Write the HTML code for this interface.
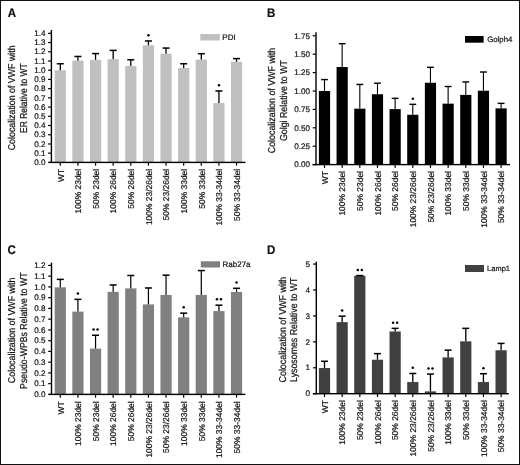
<!DOCTYPE html>
<html><head><meta charset="utf-8"><style>
html,body{margin:0;padding:0;background:#fff;}
svg{display:block;will-change:transform;}
text{font-family:"Liberation Sans", sans-serif;fill:#111;stroke:#111;stroke-width:0.2px;text-rendering:geometricPrecision;}
</style></head><body>
<svg width="520" height="465" viewBox="0 0 520 465">
<rect x="0" y="0" width="520" height="465" fill="#fff"/>
<rect x="0.5" y="0.5" width="519" height="464" fill="none" stroke="#111" stroke-width="1"/>
<text transform="translate(7.8,16.6) scale(0.93,1)" font-size="12.4" font-weight="bold">A</text>
<rect x="54.7" y="70.2" width="11.2" height="92.2" fill="#c0c0c0"/>
<rect x="59.65" y="63.75" width="1.3" height="6.45" fill="#000"/>
<rect x="56.8" y="63" width="7" height="1.5" fill="#000"/>
<rect x="59.7" y="162.4" width="1.2" height="3.3" fill="#000"/>
<text transform="translate(63.5,168.8) rotate(-90) scale(1,1.0)" text-anchor="end" font-size="8.45">WT</text>
<rect x="72.33" y="60.61" width="11.2" height="101.79" fill="#c0c0c0"/>
<rect x="77.27" y="56.46" width="1.3" height="4.15" fill="#000"/>
<rect x="74.42" y="55.71" width="7" height="1.5" fill="#000"/>
<rect x="77.33" y="162.4" width="1.2" height="3.3" fill="#000"/>
<text transform="translate(81.12,168.8) rotate(-90) scale(1,1.0)" text-anchor="end" font-size="8.45">100% 23del</text>
<rect x="89.95" y="59.78" width="11.2" height="102.62" fill="#c0c0c0"/>
<rect x="94.9" y="53.6" width="1.3" height="6.18" fill="#000"/>
<rect x="92.05" y="52.85" width="7" height="1.5" fill="#000"/>
<rect x="94.95" y="162.4" width="1.2" height="3.3" fill="#000"/>
<text transform="translate(98.75,168.8) rotate(-90) scale(1,1.0)" text-anchor="end" font-size="8.45">50% 23del</text>
<rect x="107.58" y="59.14" width="11.2" height="103.26" fill="#c0c0c0"/>
<rect x="112.52" y="50.38" width="1.3" height="8.76" fill="#000"/>
<rect x="109.67" y="49.63" width="7" height="1.5" fill="#000"/>
<rect x="112.58" y="162.4" width="1.2" height="3.3" fill="#000"/>
<text transform="translate(116.38,168.8) rotate(-90) scale(1,1.0)" text-anchor="end" font-size="8.45">100% 26del</text>
<rect x="125.2" y="65.96" width="11.2" height="96.44" fill="#c0c0c0"/>
<rect x="130.15" y="59.78" width="1.3" height="6.18" fill="#000"/>
<rect x="127.3" y="59.03" width="7" height="1.5" fill="#000"/>
<rect x="130.2" y="162.4" width="1.2" height="3.3" fill="#000"/>
<text transform="translate(134,168.8) rotate(-90) scale(1,1.0)" text-anchor="end" font-size="8.45">50% 26del</text>
<rect x="142.83" y="45.31" width="11.2" height="117.09" fill="#c0c0c0"/>
<rect x="147.78" y="40.97" width="1.3" height="4.33" fill="#000"/>
<rect x="144.93" y="40.22" width="7" height="1.5" fill="#000"/>
<circle cx="148.43" cy="35.37" r="1.25" fill="#000"/>
<rect x="147.83" y="162.4" width="1.2" height="3.3" fill="#000"/>
<text transform="translate(151.62,168.8) rotate(-90) scale(1,1.0)" text-anchor="end" font-size="8.45">100% 23/26del</text>
<rect x="160.45" y="53.7" width="11.2" height="108.7" fill="#c0c0c0"/>
<rect x="165.4" y="48.07" width="1.3" height="5.62" fill="#000"/>
<rect x="162.55" y="47.32" width="7" height="1.5" fill="#000"/>
<rect x="165.45" y="162.4" width="1.2" height="3.3" fill="#000"/>
<text transform="translate(169.25,168.8) rotate(-90) scale(1,1.0)" text-anchor="end" font-size="8.45">50% 23/26del</text>
<rect x="178.08" y="67.99" width="11.2" height="94.41" fill="#c0c0c0"/>
<rect x="183.03" y="63.75" width="1.3" height="4.24" fill="#000"/>
<rect x="180.18" y="63" width="7" height="1.5" fill="#000"/>
<rect x="183.08" y="162.4" width="1.2" height="3.3" fill="#000"/>
<text transform="translate(186.88,168.8) rotate(-90) scale(1,1.0)" text-anchor="end" font-size="8.45">100% 33del</text>
<rect x="195.7" y="59.6" width="11.2" height="102.8" fill="#c0c0c0"/>
<rect x="200.65" y="53.7" width="1.3" height="5.9" fill="#000"/>
<rect x="197.8" y="52.95" width="7" height="1.5" fill="#000"/>
<rect x="200.7" y="162.4" width="1.2" height="3.3" fill="#000"/>
<text transform="translate(204.5,168.8) rotate(-90) scale(1,1.0)" text-anchor="end" font-size="8.45">50% 33del</text>
<rect x="213.33" y="103.12" width="11.2" height="59.28" fill="#c0c0c0"/>
<rect x="218.28" y="90.95" width="1.3" height="12.17" fill="#000"/>
<rect x="215.43" y="90.2" width="7" height="1.5" fill="#000"/>
<circle cx="218.93" cy="85.35" r="1.25" fill="#000"/>
<rect x="218.33" y="162.4" width="1.2" height="3.3" fill="#000"/>
<text transform="translate(222.12,168.8) rotate(-90) scale(1,1.0)" text-anchor="end" font-size="8.45">100% 33-34del</text>
<rect x="230.95" y="61.72" width="11.2" height="100.68" fill="#c0c0c0"/>
<rect x="235.9" y="58.58" width="1.3" height="3.13" fill="#000"/>
<rect x="233.05" y="57.83" width="7" height="1.5" fill="#000"/>
<rect x="235.95" y="162.4" width="1.2" height="3.3" fill="#000"/>
<text transform="translate(239.75,168.8) rotate(-90) scale(1,1.0)" text-anchor="end" font-size="8.45">50% 33-34del</text>
<rect x="50.7" y="30" width="1.4" height="133.1" fill="#000"/>
<rect x="49" y="161.7" width="196.5" height="1.4" fill="#000"/>
<rect x="48.1" y="161.8" width="3" height="1.2" fill="#000"/>
<text x="45.4" y="165.1" text-anchor="end" font-size="8.1">0.0</text>
<rect x="48.1" y="152.58" width="3" height="1.2" fill="#000"/>
<text x="45.4" y="155.88" text-anchor="end" font-size="8.1">0.1</text>
<rect x="48.1" y="143.36" width="3" height="1.2" fill="#000"/>
<text x="45.4" y="146.66" text-anchor="end" font-size="8.1">0.2</text>
<rect x="48.1" y="134.14" width="3" height="1.2" fill="#000"/>
<text x="45.4" y="137.44" text-anchor="end" font-size="8.1">0.3</text>
<rect x="48.1" y="124.92" width="3" height="1.2" fill="#000"/>
<text x="45.4" y="128.22" text-anchor="end" font-size="8.1">0.4</text>
<rect x="48.1" y="115.7" width="3" height="1.2" fill="#000"/>
<text x="45.4" y="119" text-anchor="end" font-size="8.1">0.5</text>
<rect x="48.1" y="106.48" width="3" height="1.2" fill="#000"/>
<text x="45.4" y="109.78" text-anchor="end" font-size="8.1">0.6</text>
<rect x="48.1" y="97.26" width="3" height="1.2" fill="#000"/>
<text x="45.4" y="100.56" text-anchor="end" font-size="8.1">0.7</text>
<rect x="48.1" y="88.04" width="3" height="1.2" fill="#000"/>
<text x="45.4" y="91.34" text-anchor="end" font-size="8.1">0.8</text>
<rect x="48.1" y="78.82" width="3" height="1.2" fill="#000"/>
<text x="45.4" y="82.12" text-anchor="end" font-size="8.1">0.9</text>
<rect x="48.1" y="69.6" width="3" height="1.2" fill="#000"/>
<text x="45.4" y="72.9" text-anchor="end" font-size="8.1">1.0</text>
<rect x="48.1" y="60.38" width="3" height="1.2" fill="#000"/>
<text x="45.4" y="63.68" text-anchor="end" font-size="8.1">1.1</text>
<rect x="48.1" y="51.16" width="3" height="1.2" fill="#000"/>
<text x="45.4" y="54.46" text-anchor="end" font-size="8.1">1.2</text>
<rect x="48.1" y="41.94" width="3" height="1.2" fill="#000"/>
<text x="45.4" y="45.24" text-anchor="end" font-size="8.1">1.3</text>
<rect x="48.1" y="32.72" width="3" height="1.2" fill="#000"/>
<text x="45.4" y="36.02" text-anchor="end" font-size="8.1">1.4</text>
<rect x="200.3" y="34" width="19.5" height="6.5" fill="#c0c0c0"/>
<text x="222.3" y="39.9" font-size="8.0">PDI</text>
<text transform="translate(15.1,97.85) rotate(-90) scale(1,1.12)" text-anchor="middle" font-size="8.9" textLength="104.8" lengthAdjust="spacingAndGlyphs">Colocalization of VWF with</text>
<text transform="translate(27.1,98.15) rotate(-90) scale(1,1.12)" text-anchor="middle" font-size="8.9" textLength="69.5" lengthAdjust="spacingAndGlyphs">ER Relative to WT</text>
<text transform="translate(267,16.6) scale(0.93,1)" font-size="12.4" font-weight="bold">B</text>
<rect x="318.9" y="91" width="11.2" height="73.6" fill="#000000"/>
<rect x="323.95" y="79.59" width="1.1" height="11.41" fill="#000"/>
<rect x="321.1" y="78.89" width="6.8" height="1.4" fill="#000"/>
<rect x="323.9" y="164.6" width="1.2" height="3.3" fill="#000"/>
<text transform="translate(327.7,171) rotate(-90) scale(1,1.0)" text-anchor="end" font-size="8.45">WT</text>
<rect x="336.56" y="67.01" width="11.2" height="97.59" fill="#000000"/>
<rect x="341.61" y="43.68" width="1.1" height="23.33" fill="#000"/>
<rect x="338.76" y="42.98" width="6.8" height="1.4" fill="#000"/>
<rect x="341.56" y="164.6" width="1.2" height="3.3" fill="#000"/>
<text transform="translate(345.36,171) rotate(-90) scale(1,1.0)" text-anchor="end" font-size="8.45">100% 23del</text>
<rect x="354.22" y="108.66" width="11.2" height="55.94" fill="#000000"/>
<rect x="359.27" y="84.45" width="1.1" height="24.21" fill="#000"/>
<rect x="356.42" y="83.75" width="6.8" height="1.4" fill="#000"/>
<rect x="359.22" y="164.6" width="1.2" height="3.3" fill="#000"/>
<text transform="translate(363.02,171) rotate(-90) scale(1,1.0)" text-anchor="end" font-size="8.45">50% 23del</text>
<rect x="371.88" y="94.24" width="11.2" height="70.36" fill="#000000"/>
<rect x="376.93" y="83.2" width="1.1" height="11.04" fill="#000"/>
<rect x="374.08" y="82.5" width="6.8" height="1.4" fill="#000"/>
<rect x="376.88" y="164.6" width="1.2" height="3.3" fill="#000"/>
<text transform="translate(380.68,171) rotate(-90) scale(1,1.0)" text-anchor="end" font-size="8.45">100% 26del</text>
<rect x="389.54" y="109.11" width="11.2" height="55.49" fill="#000000"/>
<rect x="394.59" y="98.36" width="1.1" height="10.75" fill="#000"/>
<rect x="391.74" y="97.66" width="6.8" height="1.4" fill="#000"/>
<rect x="394.54" y="164.6" width="1.2" height="3.3" fill="#000"/>
<text transform="translate(398.34,171) rotate(-90) scale(1,1.0)" text-anchor="end" font-size="8.45">50% 26del</text>
<rect x="407.2" y="114.77" width="11.2" height="49.83" fill="#000000"/>
<rect x="412.25" y="104.32" width="1.1" height="10.45" fill="#000"/>
<rect x="409.4" y="103.62" width="6.8" height="1.4" fill="#000"/>
<circle cx="412.8" cy="98.72" r="1.25" fill="#000"/>
<rect x="412.2" y="164.6" width="1.2" height="3.3" fill="#000"/>
<text transform="translate(416,171) rotate(-90) scale(1,1.0)" text-anchor="end" font-size="8.45">100% 23/26del</text>
<rect x="424.86" y="82.76" width="11.2" height="81.84" fill="#000000"/>
<rect x="429.91" y="67.3" width="1.1" height="15.46" fill="#000"/>
<rect x="427.06" y="66.6" width="6.8" height="1.4" fill="#000"/>
<rect x="429.86" y="164.6" width="1.2" height="3.3" fill="#000"/>
<text transform="translate(433.66,171) rotate(-90) scale(1,1.0)" text-anchor="end" font-size="8.45">50% 23/26del</text>
<rect x="442.52" y="103.66" width="11.2" height="60.94" fill="#000000"/>
<rect x="447.57" y="86.51" width="1.1" height="17.15" fill="#000"/>
<rect x="444.72" y="85.81" width="6.8" height="1.4" fill="#000"/>
<rect x="447.52" y="164.6" width="1.2" height="3.3" fill="#000"/>
<text transform="translate(451.32,171) rotate(-90) scale(1,1.0)" text-anchor="end" font-size="8.45">100% 33del</text>
<rect x="460.18" y="94.9" width="11.2" height="69.7" fill="#000000"/>
<rect x="465.23" y="81.95" width="1.1" height="12.95" fill="#000"/>
<rect x="462.38" y="81.25" width="6.8" height="1.4" fill="#000"/>
<rect x="465.18" y="164.6" width="1.2" height="3.3" fill="#000"/>
<text transform="translate(468.98,171) rotate(-90) scale(1,1.0)" text-anchor="end" font-size="8.45">50% 33del</text>
<rect x="477.84" y="90.71" width="11.2" height="73.89" fill="#000000"/>
<rect x="482.89" y="72.01" width="1.1" height="18.69" fill="#000"/>
<rect x="480.04" y="71.31" width="6.8" height="1.4" fill="#000"/>
<rect x="482.84" y="164.6" width="1.2" height="3.3" fill="#000"/>
<text transform="translate(486.64,171) rotate(-90) scale(1,1.0)" text-anchor="end" font-size="8.45">100% 33-34del</text>
<rect x="495.5" y="108.37" width="11.2" height="56.23" fill="#000000"/>
<rect x="500.55" y="103.36" width="1.1" height="5" fill="#000"/>
<rect x="497.7" y="102.66" width="6.8" height="1.4" fill="#000"/>
<rect x="500.5" y="164.6" width="1.2" height="3.3" fill="#000"/>
<text transform="translate(504.3,171) rotate(-90) scale(1,1.0)" text-anchor="end" font-size="8.45">50% 33-34del</text>
<rect x="315.3" y="32.3" width="1.4" height="133" fill="#000"/>
<rect x="312.6" y="163.9" width="197.4" height="1.4" fill="#000"/>
<rect x="312.7" y="164" width="3" height="1.2" fill="#000"/>
<text x="309.9" y="167.3" text-anchor="end" font-size="8.1">0.00</text>
<rect x="312.7" y="145.6" width="3" height="1.2" fill="#000"/>
<text x="309.9" y="148.9" text-anchor="end" font-size="8.1">0.25</text>
<rect x="312.7" y="127.2" width="3" height="1.2" fill="#000"/>
<text x="309.9" y="130.5" text-anchor="end" font-size="8.1">0.50</text>
<rect x="312.7" y="108.8" width="3" height="1.2" fill="#000"/>
<text x="309.9" y="112.1" text-anchor="end" font-size="8.1">0.75</text>
<rect x="312.7" y="90.4" width="3" height="1.2" fill="#000"/>
<text x="309.9" y="93.7" text-anchor="end" font-size="8.1">1.00</text>
<rect x="312.7" y="72" width="3" height="1.2" fill="#000"/>
<text x="309.9" y="75.3" text-anchor="end" font-size="8.1">1.25</text>
<rect x="312.7" y="53.6" width="3" height="1.2" fill="#000"/>
<text x="309.9" y="56.9" text-anchor="end" font-size="8.1">1.50</text>
<rect x="312.7" y="35.2" width="3" height="1.2" fill="#000"/>
<text x="309.9" y="38.5" text-anchor="end" font-size="8.1">1.75</text>
<rect x="465" y="36" width="18.6" height="6.7" fill="#000000"/>
<text x="487.2" y="41.9" font-size="7.8">Golph4</text>
<text transform="translate(274.9,100.5) rotate(-90) scale(1,1.12)" text-anchor="middle" font-size="8.9" textLength="105.5" lengthAdjust="spacingAndGlyphs">Colocalization of VWF with</text>
<text transform="translate(286.8,100.6) rotate(-90) scale(1,1.12)" text-anchor="middle" font-size="8.9" textLength="81" lengthAdjust="spacingAndGlyphs">Golgi Relative to WT</text>
<text transform="translate(7.6,254.3) scale(0.93,1)" font-size="12.4" font-weight="bold">C</text>
<rect x="54.7" y="287.33" width="11.2" height="107.07" fill="#808080"/>
<rect x="59.7" y="279.38" width="1.2" height="7.95" fill="#000"/>
<rect x="56.8" y="278.62" width="7" height="1.5" fill="#000"/>
<rect x="59.7" y="394.4" width="1.2" height="3.3" fill="#000"/>
<text transform="translate(63.5,401.3) rotate(-90) scale(1,1.0)" text-anchor="end" font-size="8.45">WT</text>
<rect x="72.33" y="311.62" width="11.2" height="82.77" fill="#808080"/>
<rect x="77.33" y="299.37" width="1.2" height="12.25" fill="#000"/>
<rect x="74.42" y="298.62" width="7" height="1.5" fill="#000"/>
<circle cx="77.92" cy="293.47" r="1.25" fill="#000"/>
<rect x="77.33" y="394.4" width="1.2" height="3.3" fill="#000"/>
<text transform="translate(81.12,401.3) rotate(-90) scale(1,1.0)" text-anchor="end" font-size="8.45">100% 23del</text>
<rect x="89.95" y="348.6" width="11.2" height="45.8" fill="#808080"/>
<rect x="94.95" y="335.27" width="1.2" height="13.33" fill="#000"/>
<rect x="92.05" y="334.52" width="7" height="1.5" fill="#000"/>
<circle cx="93.55" cy="329.38" r="1.25" fill="#000"/>
<circle cx="97.55" cy="329.38" r="1.25" fill="#000"/>
<rect x="94.95" y="394.4" width="1.2" height="3.3" fill="#000"/>
<text transform="translate(98.75,401.3) rotate(-90) scale(1,1.0)" text-anchor="end" font-size="8.45">50% 23del</text>
<rect x="107.58" y="291.84" width="11.2" height="102.56" fill="#808080"/>
<rect x="112.58" y="284.96" width="1.2" height="6.88" fill="#000"/>
<rect x="109.67" y="284.21" width="7" height="1.5" fill="#000"/>
<rect x="112.58" y="394.4" width="1.2" height="3.3" fill="#000"/>
<text transform="translate(116.38,401.3) rotate(-90) scale(1,1.0)" text-anchor="end" font-size="8.45">100% 26del</text>
<rect x="125.2" y="288.4" width="11.2" height="106" fill="#808080"/>
<rect x="130.2" y="275.5" width="1.2" height="12.9" fill="#000"/>
<rect x="127.3" y="274.75" width="7" height="1.5" fill="#000"/>
<rect x="130.2" y="394.4" width="1.2" height="3.3" fill="#000"/>
<text transform="translate(134,401.3) rotate(-90) scale(1,1.0)" text-anchor="end" font-size="8.45">50% 26del</text>
<rect x="142.83" y="304.42" width="11.2" height="89.98" fill="#808080"/>
<rect x="147.83" y="287.97" width="1.2" height="16.45" fill="#000"/>
<rect x="144.93" y="287.22" width="7" height="1.5" fill="#000"/>
<rect x="147.83" y="394.4" width="1.2" height="3.3" fill="#000"/>
<text transform="translate(151.62,401.3) rotate(-90) scale(1,1.0)" text-anchor="end" font-size="8.45">100% 23/26del</text>
<rect x="160.45" y="294.96" width="11.2" height="99.44" fill="#808080"/>
<rect x="165.45" y="275.18" width="1.2" height="19.78" fill="#000"/>
<rect x="162.55" y="274.43" width="7" height="1.5" fill="#000"/>
<rect x="165.45" y="394.4" width="1.2" height="3.3" fill="#000"/>
<text transform="translate(169.25,401.3) rotate(-90) scale(1,1.0)" text-anchor="end" font-size="8.45">50% 23/26del</text>
<rect x="178.08" y="317.32" width="11.2" height="77.08" fill="#808080"/>
<rect x="183.08" y="313.13" width="1.2" height="4.19" fill="#000"/>
<rect x="180.18" y="312.38" width="7" height="1.5" fill="#000"/>
<circle cx="183.68" cy="307.23" r="1.25" fill="#000"/>
<rect x="183.08" y="394.4" width="1.2" height="3.3" fill="#000"/>
<text transform="translate(186.88,401.3) rotate(-90) scale(1,1.0)" text-anchor="end" font-size="8.45">100% 33del</text>
<rect x="195.7" y="294.96" width="11.2" height="99.44" fill="#808080"/>
<rect x="200.7" y="270.56" width="1.2" height="24.4" fill="#000"/>
<rect x="197.8" y="269.81" width="7" height="1.5" fill="#000"/>
<rect x="200.7" y="394.4" width="1.2" height="3.3" fill="#000"/>
<text transform="translate(204.5,401.3) rotate(-90) scale(1,1.0)" text-anchor="end" font-size="8.45">50% 33del</text>
<rect x="213.33" y="311.09" width="11.2" height="83.31" fill="#808080"/>
<rect x="218.33" y="305.17" width="1.2" height="5.91" fill="#000"/>
<rect x="215.43" y="304.42" width="7" height="1.5" fill="#000"/>
<circle cx="216.93" cy="299.27" r="1.25" fill="#000"/>
<circle cx="220.93" cy="299.27" r="1.25" fill="#000"/>
<rect x="218.33" y="394.4" width="1.2" height="3.3" fill="#000"/>
<text transform="translate(222.12,401.3) rotate(-90) scale(1,1.0)" text-anchor="end" font-size="8.45">100% 33-34del</text>
<rect x="230.95" y="291.95" width="11.2" height="102.45" fill="#808080"/>
<rect x="235.95" y="288.3" width="1.2" height="3.65" fill="#000"/>
<rect x="233.05" y="287.55" width="7" height="1.5" fill="#000"/>
<circle cx="236.55" cy="282.4" r="1.25" fill="#000"/>
<rect x="235.95" y="394.4" width="1.2" height="3.3" fill="#000"/>
<text transform="translate(239.75,401.3) rotate(-90) scale(1,1.0)" text-anchor="end" font-size="8.45">50% 33-34del</text>
<rect x="50.8" y="262.6" width="1.4" height="132.5" fill="#000"/>
<rect x="48.9" y="393.7" width="196.5" height="1.4" fill="#000"/>
<rect x="48.2" y="393.8" width="3" height="1.2" fill="#000"/>
<text x="45.4" y="397.1" text-anchor="end" font-size="8.1">0.0</text>
<rect x="48.2" y="383.05" width="3" height="1.2" fill="#000"/>
<text x="45.4" y="386.35" text-anchor="end" font-size="8.1">0.1</text>
<rect x="48.2" y="372.3" width="3" height="1.2" fill="#000"/>
<text x="45.4" y="375.6" text-anchor="end" font-size="8.1">0.2</text>
<rect x="48.2" y="361.55" width="3" height="1.2" fill="#000"/>
<text x="45.4" y="364.85" text-anchor="end" font-size="8.1">0.3</text>
<rect x="48.2" y="350.8" width="3" height="1.2" fill="#000"/>
<text x="45.4" y="354.1" text-anchor="end" font-size="8.1">0.4</text>
<rect x="48.2" y="340.05" width="3" height="1.2" fill="#000"/>
<text x="45.4" y="343.35" text-anchor="end" font-size="8.1">0.5</text>
<rect x="48.2" y="329.3" width="3" height="1.2" fill="#000"/>
<text x="45.4" y="332.6" text-anchor="end" font-size="8.1">0.6</text>
<rect x="48.2" y="318.55" width="3" height="1.2" fill="#000"/>
<text x="45.4" y="321.85" text-anchor="end" font-size="8.1">0.7</text>
<rect x="48.2" y="307.8" width="3" height="1.2" fill="#000"/>
<text x="45.4" y="311.1" text-anchor="end" font-size="8.1">0.8</text>
<rect x="48.2" y="297.05" width="3" height="1.2" fill="#000"/>
<text x="45.4" y="300.35" text-anchor="end" font-size="8.1">0.9</text>
<rect x="48.2" y="286.3" width="3" height="1.2" fill="#000"/>
<text x="45.4" y="289.6" text-anchor="end" font-size="8.1">1.0</text>
<rect x="48.2" y="275.55" width="3" height="1.2" fill="#000"/>
<text x="45.4" y="278.85" text-anchor="end" font-size="8.1">1.1</text>
<rect x="48.2" y="264.8" width="3" height="1.2" fill="#000"/>
<text x="45.4" y="268.1" text-anchor="end" font-size="8.1">1.2</text>
<rect x="200.8" y="261.3" width="19.2" height="6.2" fill="#808080"/>
<text x="222.5" y="267.4" font-size="8.0">Rab27a</text>
<text transform="translate(15.4,330.4) rotate(-90) scale(1,1.12)" text-anchor="middle" font-size="8.9" textLength="105.5" lengthAdjust="spacingAndGlyphs">Colocalization of VWF with</text>
<text transform="translate(27,330.65) rotate(-90) scale(1,1.12)" text-anchor="middle" font-size="8.9" textLength="116.5" lengthAdjust="spacingAndGlyphs">Pseudo-WPBs Relative to WT</text>
<text transform="translate(267,254.4) scale(0.93,1)" font-size="12.4" font-weight="bold">D</text>
<rect x="318.9" y="368.03" width="11.2" height="25.67" fill="#404040"/>
<rect x="323.85" y="361.29" width="1.3" height="6.74" fill="#000"/>
<rect x="321" y="360.54" width="7" height="1.5" fill="#000"/>
<rect x="323.9" y="393.7" width="1.2" height="3.3" fill="#000"/>
<text transform="translate(327.7,400.2) rotate(-90) scale(1,1.0)" text-anchor="end" font-size="8.45">WT</text>
<rect x="336.56" y="322.13" width="11.2" height="71.57" fill="#404040"/>
<rect x="341.51" y="316.17" width="1.3" height="5.96" fill="#000"/>
<rect x="338.66" y="315.42" width="7" height="1.5" fill="#000"/>
<circle cx="342.16" cy="310.57" r="1.25" fill="#000"/>
<rect x="341.56" y="393.7" width="1.2" height="3.3" fill="#000"/>
<text transform="translate(345.36,400.2) rotate(-90) scale(1,1.0)" text-anchor="end" font-size="8.45">100% 23del</text>
<rect x="354.22" y="275.8" width="11.2" height="117.9" fill="#404040"/>
<rect x="359.17" y="275.56" width="1.3" height="0.23" fill="#000"/>
<rect x="356.32" y="274.81" width="7" height="1.5" fill="#000"/>
<circle cx="357.82" cy="269.96" r="1.25" fill="#000"/>
<circle cx="361.82" cy="269.96" r="1.25" fill="#000"/>
<rect x="359.22" y="393.7" width="1.2" height="3.3" fill="#000"/>
<text transform="translate(363.02,400.2) rotate(-90) scale(1,1.0)" text-anchor="end" font-size="8.45">50% 23del</text>
<rect x="371.88" y="359.73" width="11.2" height="33.97" fill="#404040"/>
<rect x="376.83" y="353.64" width="1.3" height="6.09" fill="#000"/>
<rect x="373.98" y="352.89" width="7" height="1.5" fill="#000"/>
<rect x="376.88" y="393.7" width="1.2" height="3.3" fill="#000"/>
<text transform="translate(380.68,400.2) rotate(-90) scale(1,1.0)" text-anchor="end" font-size="8.45">100% 26del</text>
<rect x="389.54" y="331.47" width="11.2" height="62.23" fill="#404040"/>
<rect x="394.49" y="328.36" width="1.3" height="3.11" fill="#000"/>
<rect x="391.64" y="327.61" width="7" height="1.5" fill="#000"/>
<circle cx="393.14" cy="322.76" r="1.25" fill="#000"/>
<circle cx="397.14" cy="322.76" r="1.25" fill="#000"/>
<rect x="394.54" y="393.7" width="1.2" height="3.3" fill="#000"/>
<text transform="translate(398.34,400.2) rotate(-90) scale(1,1.0)" text-anchor="end" font-size="8.45">50% 26del</text>
<rect x="407.2" y="382.03" width="11.2" height="11.67" fill="#404040"/>
<rect x="412.15" y="373.47" width="1.3" height="8.56" fill="#000"/>
<rect x="409.3" y="372.72" width="7" height="1.5" fill="#000"/>
<circle cx="412.8" cy="367.87" r="1.25" fill="#000"/>
<rect x="412.2" y="393.7" width="1.2" height="3.3" fill="#000"/>
<text transform="translate(416,400.2) rotate(-90) scale(1,1.0)" text-anchor="end" font-size="8.45">100% 23/26del</text>
<rect x="424.86" y="391.37" width="11.2" height="2.33" fill="#404040"/>
<rect x="429.81" y="374.07" width="1.3" height="17.3" fill="#000"/>
<rect x="426.96" y="373.32" width="7" height="1.5" fill="#000"/>
<circle cx="428.46" cy="368.47" r="1.25" fill="#000"/>
<circle cx="432.46" cy="368.47" r="1.25" fill="#000"/>
<rect x="429.86" y="393.7" width="1.2" height="3.3" fill="#000"/>
<text transform="translate(433.66,400.2) rotate(-90) scale(1,1.0)" text-anchor="end" font-size="8.45">50% 23/26del</text>
<rect x="442.52" y="357.4" width="11.2" height="36.3" fill="#404040"/>
<rect x="447.47" y="350.14" width="1.3" height="7.26" fill="#000"/>
<rect x="444.62" y="349.39" width="7" height="1.5" fill="#000"/>
<rect x="447.52" y="393.7" width="1.2" height="3.3" fill="#000"/>
<text transform="translate(451.32,400.2) rotate(-90) scale(1,1.0)" text-anchor="end" font-size="8.45">100% 33del</text>
<rect x="460.18" y="341.32" width="11.2" height="52.38" fill="#404040"/>
<rect x="465.13" y="328.36" width="1.3" height="12.96" fill="#000"/>
<rect x="462.28" y="327.61" width="7" height="1.5" fill="#000"/>
<rect x="465.18" y="393.7" width="1.2" height="3.3" fill="#000"/>
<text transform="translate(468.98,400.2) rotate(-90) scale(1,1.0)" text-anchor="end" font-size="8.45">50% 33del</text>
<rect x="477.84" y="382.03" width="11.2" height="11.67" fill="#404040"/>
<rect x="482.79" y="373.73" width="1.3" height="8.3" fill="#000"/>
<rect x="479.94" y="372.98" width="7" height="1.5" fill="#000"/>
<circle cx="483.44" cy="368.13" r="1.25" fill="#000"/>
<rect x="482.84" y="393.7" width="1.2" height="3.3" fill="#000"/>
<text transform="translate(486.64,400.2) rotate(-90) scale(1,1.0)" text-anchor="end" font-size="8.45">100% 33-34del</text>
<rect x="495.5" y="350.27" width="11.2" height="43.43" fill="#404040"/>
<rect x="500.45" y="343.4" width="1.3" height="6.87" fill="#000"/>
<rect x="497.6" y="342.65" width="7" height="1.5" fill="#000"/>
<rect x="500.5" y="393.7" width="1.2" height="3.3" fill="#000"/>
<text transform="translate(504.3,400.2) rotate(-90) scale(1,1.0)" text-anchor="end" font-size="8.45">50% 33-34del</text>
<rect x="315.6" y="261.6" width="1.4" height="132.8" fill="#000"/>
<rect x="312.8" y="393" width="196" height="1.4" fill="#000"/>
<rect x="313" y="393.1" width="3" height="1.2" fill="#000"/>
<text x="309.9" y="396.4" text-anchor="end" font-size="8.1">0</text>
<rect x="313" y="367.17" width="3" height="1.2" fill="#000"/>
<text x="309.9" y="370.47" text-anchor="end" font-size="8.1">1</text>
<rect x="313" y="341.24" width="3" height="1.2" fill="#000"/>
<text x="309.9" y="344.54" text-anchor="end" font-size="8.1">2</text>
<rect x="313" y="315.31" width="3" height="1.2" fill="#000"/>
<text x="309.9" y="318.61" text-anchor="end" font-size="8.1">3</text>
<rect x="313" y="289.38" width="3" height="1.2" fill="#000"/>
<text x="309.9" y="292.68" text-anchor="end" font-size="8.1">4</text>
<rect x="313" y="263.45" width="3" height="1.2" fill="#000"/>
<text x="309.9" y="266.75" text-anchor="end" font-size="8.1">5</text>
<rect x="465" y="265" width="19" height="7" fill="#404040"/>
<text x="487.1" y="271.2" font-size="7.5">Lamp1</text>
<text transform="translate(285.5,329.6) rotate(-90) scale(1,1.12)" text-anchor="middle" font-size="8.9" textLength="105.8" lengthAdjust="spacingAndGlyphs">Colocalization of VWF with</text>
<text transform="translate(297.1,329.75) rotate(-90) scale(1,1.12)" text-anchor="middle" font-size="8.9" textLength="104.4" lengthAdjust="spacingAndGlyphs">Lysosomes Relative to WT</text>
</svg>
</body></html>
